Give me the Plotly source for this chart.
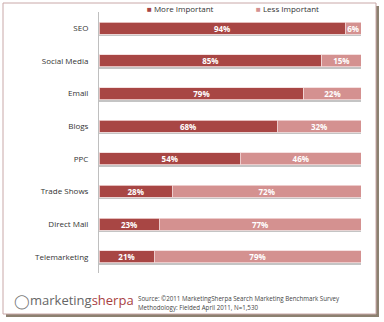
import plotly.graph_objects as go

categories = ["SEO", "Social Media", "Email", "Blogs", "PPC", "Trade Shows", "Direct Mail", "Telemarketing"]
more_important = [94, 85, 79, 68, 54, 28, 23, 21]
less_important = [6, 15, 22, 32, 46, 72, 77, 79]
series_names = ["More Important", "Less Important"]
source_lines = ["Source: ©2011 MarketingSherpa Search Marketing Benchmark Survey",
                "Methodology: Fielded April 2011, N=1,530"]

W, H = 384, 322
L, R, T, B = 99, 23, 12, 49
pw, ph = W - L - R, H - T - B

def px(x):
    return (x - L) / pw

def py(y):
    return (H - B - y) / ph

dark = "#A84644"
light = "#D49190"
font = "Open Sans, Liberation Sans, sans-serif"
BW = 0.37

fig = go.Figure()
totals = [m + l for m, l in zip(more_important, less_important)]
fig.add_trace(go.Bar(
    y=categories, x=totals, orientation="h", xaxis="x", yaxis="y",
    width=BW, offset=-BW / 2 + 0.06,
    marker=dict(color="#C4C4C4", line=dict(width=0)),
    hoverinfo="skip", showlegend=False,
))
for name, vals, col in [(series_names[0], more_important, dark), (series_names[1], less_important, light)]:
    fig.add_trace(go.Bar(
        y=categories, x=vals, name=name, orientation="h", xaxis="x", yaxis="y2",
        width=BW, offset=-BW / 2,
        marker=dict(color=col, line=dict(color="#F2DADA", width=0.8)),
        text=[f"<b>{v}%</b>" for v in vals], textposition="inside", insidetextanchor="middle",
        constraintext="none",
        textfont=dict(color="white", size=8, family=font),
        hoverinfo="skip", showlegend=False,
    ))

fig.update_layout(
    width=W, height=H, margin=dict(l=L, r=R, t=T, b=B),
    barmode="stack", barnorm="percent",
    paper_bgcolor="white", plot_bgcolor="white",
    font=dict(family=font, color="#333333", size=8),
    xaxis=dict(range=[0, 100], visible=False, fixedrange=True),
    yaxis=dict(autorange="reversed", showline=True, linecolor="#BFBFBF", linewidth=1,
               ticks="", ticklabelstandoff=8, tickfont=dict(size=8, color="#333333", family=font),
               showgrid=False, zeroline=False),
    yaxis2=dict(overlaying="y", autorange="reversed", showticklabels=False, showline=False,
                ticks="", showgrid=False, zeroline=False, matches="y"),
)

shapes = [
    dict(type="rect", xref="paper", yref="paper", x0=px(6), x1=px(379), y0=py(6), y1=py(317),
         fillcolor="#8C8070", line=dict(width=0), layer="below"),
    dict(type="rect", xref="paper", yref="paper", x0=px(3), x1=px(376), y0=py(3), y1=py(314),
         fillcolor="white", line=dict(color="#C9A8A8", width=1), layer="below"),
]
fig.update_layout(shapes=shapes)

ann = [
    dict(xref="paper", yref="paper", x=px(145), y=py(8), xanchor="left", yanchor="middle",
         text=f"<span style='color:{dark}'>■</span> {series_names[0]}", showarrow=False,
         font=dict(size=8, color="#333333", family=font)),
    dict(xref="paper", yref="paper", x=px(254), y=py(8), xanchor="left", yanchor="middle",
         text=f"<span style='color:{light}'>■</span> {series_names[1]}", showarrow=False,
         font=dict(size=8, color="#333333", family=font)),
    dict(xref="paper", yref="paper", x=px(12), y=py(300), xanchor="left", yanchor="middle",
         text="◯", showarrow=False, font=dict(size=14, color="#777777", family=font)),
    dict(xref="paper", yref="paper", x=px(28), y=py(300), xanchor="left", yanchor="middle",
         text="<span style='color:#666666'>marketing</span><span style='color:#A8403F'>sherpa</span>",
         showarrow=False, font=dict(size=13, family=font)),
    dict(xref="paper", yref="paper", x=px(136), y=py(298), xanchor="left", yanchor="middle",
         text=source_lines[0], showarrow=False, font=dict(size=6.2, color="#444444", family=font)),
    dict(xref="paper", yref="paper", x=px(136), y=py(307), xanchor="left", yanchor="middle",
         text=source_lines[1], showarrow=False, font=dict(size=6.2, color="#444444", family=font)),
]
fig.update_layout(annotations=ann)

fig.write_html("out.html")
